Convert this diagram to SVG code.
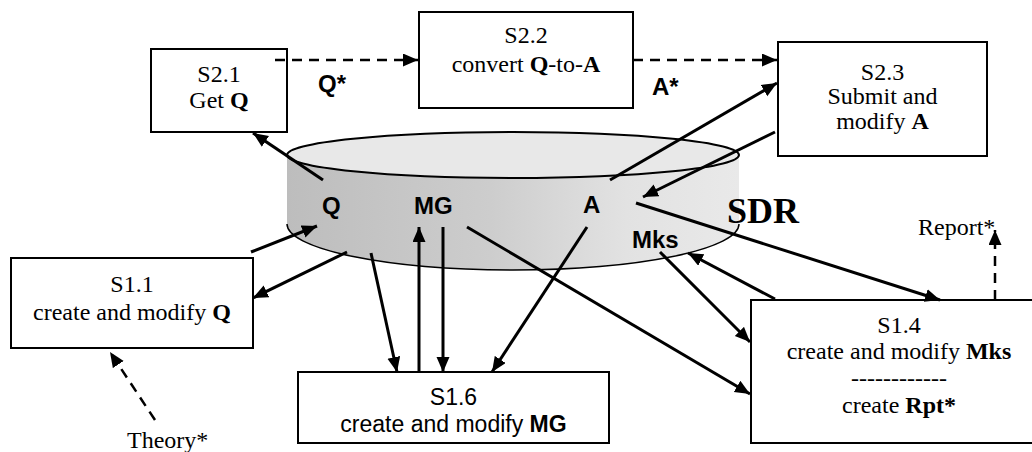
<svg xmlns="http://www.w3.org/2000/svg" width="1032" height="452" viewBox="0 0 1032 452">
<style>
.box{fill:#fff;stroke:#000;stroke-width:2}
.ser{font-family:"Liberation Serif","Times New Roman",serif;font-size:24px;fill:#000}
.san{font-family:"Liberation Sans",Arial,sans-serif;font-size:23px;fill:#000}
.lab{font-family:"Liberation Sans",Arial,sans-serif;font-size:24px;font-weight:bold;fill:#000}
.mid{text-anchor:middle}
.b{font-weight:bold}
.c{fill:none;stroke:#000;stroke-width:3;marker-end:url(#ah)}
.d{fill:none;stroke:#000;stroke-width:2.5;stroke-dasharray:10 7;marker-end:url(#ah)}
</style>
<defs>
<marker id="ah" markerUnits="userSpaceOnUse" markerWidth="16" markerHeight="14" refX="15" refY="6.5" orient="auto">
<path d="M0,0 L15,6.5 L0,13 z" fill="#000"/>
</marker>
<linearGradient id="side" x1="0" y1="0" x2="1" y2="0">
<stop offset="0" stop-color="#bdbdbd"/>
<stop offset="0.45" stop-color="#cdcdcd"/>
<stop offset="0.75" stop-color="#e2e2e2"/>
<stop offset="1" stop-color="#e9e9e9"/>
</linearGradient>
</defs>
<rect width="1032" height="452" fill="#fff"/>

<g id="SDR">
<path d="M287,155 L287,224 A226,46 0 0 0 739,224 L739,155 Z" fill="url(#side)"/>
<path d="M287,224 A226,46 0 0 0 739,224" fill="none" stroke="#000" stroke-width="1.5"/>
<ellipse cx="513" cy="155" rx="226" ry="23" fill="#e8e8e8" stroke="#000" stroke-width="2"/>
<text class="lab" x="322" y="214">Q</text>
<text class="lab" x="414" y="214">MG</text>
<text class="lab" x="583" y="213">A</text>
<text class="lab" x="632" y="248">Mks</text>
<text x="727" y="223" font-family="'Liberation Serif','Times New Roman',serif" font-size="36" font-weight="bold">SDR</text>
</g>

<g id="S2.1">
<rect class="box" x="151" y="49" width="136" height="83"/>
<text class="ser mid" x="219" y="82">S2.1</text>
<text class="ser mid" x="219" y="108">Get <tspan class="b">Q</tspan></text>
</g>

<g id="S2.2">
<rect class="box" x="419" y="12" width="214" height="96"/>
<text class="ser mid" x="526" y="43">S2.2</text>
<text class="ser mid" x="526" y="72">convert <tspan class="b">Q</tspan>-to-<tspan class="b">A</tspan></text>
</g>

<g id="S2.3">
<rect class="box" x="778" y="42" width="209" height="114"/>
<text class="ser mid" x="882.5" y="80">S2.3</text>
<text class="ser mid" x="882.5" y="104">Submit and</text>
<text class="ser mid" x="882.5" y="129">modify <tspan class="b">A</tspan></text>
</g>

<g id="S1.1">
<rect class="box" x="11" y="258" width="242" height="90"/>
<text class="ser mid" x="132" y="292">S1.1</text>
<text class="ser mid" x="132" y="320">create and modify <tspan class="b">Q</tspan></text>
</g>

<g id="S1.6">
<rect class="box" x="298" y="372" width="311" height="71"/>
<text class="san mid" x="453.5" y="405">S1.6</text>
<text class="san mid" x="453.5" y="432">create and modify <tspan class="b">MG</tspan></text>
</g>

<g id="S1.4">
<rect class="box" x="751" y="300" width="296" height="143"/>
<text class="ser mid" x="899" y="333">S1.4</text>
<text class="ser mid" x="899" y="359">create and modify <tspan class="b">Mks</tspan></text>
<text class="ser mid" x="899" y="386">------------</text>
<text class="ser mid" x="899" y="413">create <tspan class="b">Rpt*</tspan></text>
</g>

<g id="connectors">
<line class="c" x1="323" y1="180" x2="253" y2="133"/>
<line class="c" x1="251" y1="252" x2="317" y2="226"/>
<line class="c" x1="347" y1="252" x2="253" y2="298"/>
<line class="c" x1="371" y1="253" x2="397" y2="372"/>
<line class="c" x1="419" y1="372" x2="419" y2="227"/>
<line class="c" x1="443" y1="227" x2="443" y2="372"/>
<line class="c" x1="587" y1="227" x2="492" y2="372"/>
<line class="c" x1="467" y1="227" x2="750" y2="394"/>
<line class="c" x1="636" y1="203" x2="940" y2="300"/>
<line class="c" x1="660" y1="252" x2="750" y2="342"/>
<line class="c" x1="775" y1="299" x2="688" y2="253"/>
<line class="c" x1="610" y1="180" x2="777" y2="83"/>
<line class="c" x1="775" y1="132" x2="643" y2="197"/>
<line class="d" x1="275" y1="60" x2="418" y2="60"/>
<line class="d" x1="633" y1="60" x2="777" y2="60"/>
<line class="d" x1="155" y1="420" x2="110" y2="352"/>
<line class="d" x1="995" y1="300" x2="995" y2="230"/>
<text class="lab" x="318" y="92">Q*</text>
<text class="lab" x="652" y="95">A*</text>
<text class="ser" x="918" y="235">Report*</text>
<text class="ser" x="127" y="448">Theory*</text>
</g>
</svg>
